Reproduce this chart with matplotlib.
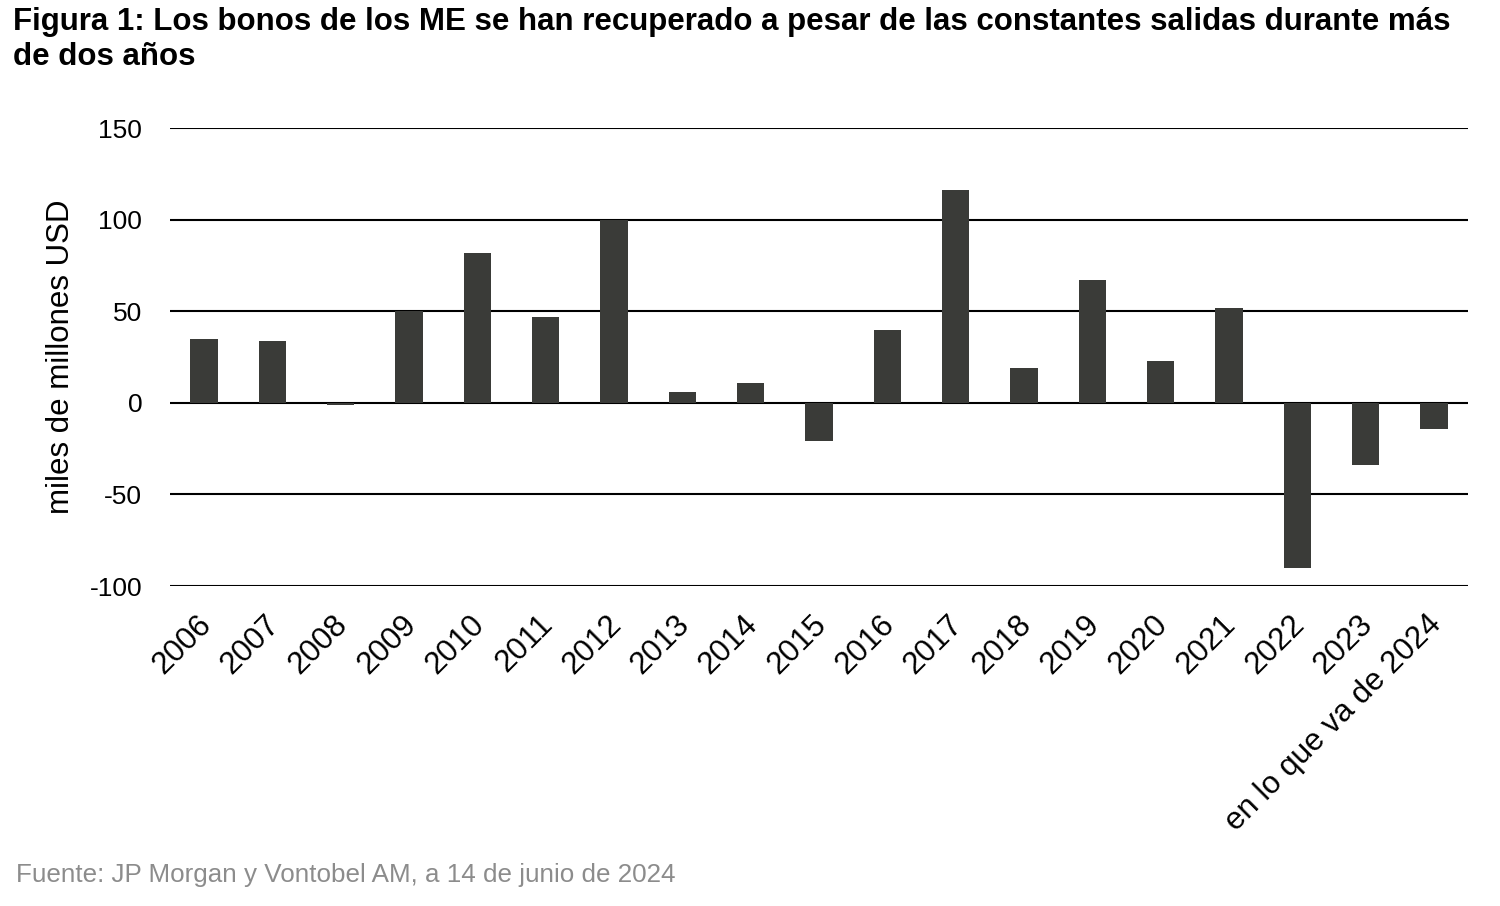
import matplotlib.pyplot as plt
import matplotlib.transforms as mtransforms
import numpy as np

plt.rcParams['font.family'] = ['Liberation Sans', 'DejaVu Sans']

# Flujos anuales (miles de millones USD)
years = ['2006', '2007', '2008', '2009', '2010', '2011', '2012', '2013', '2014', '2015',
         '2016', '2017', '2018', '2019', '2020', '2021', '2022', '2023', 'en lo que va de 2024']
flows = [35, 34, -1, 50, 82, 47, 100, 6, 11, -21,
         40, 116, 19, 67, 23, 52, -90, -34, -14.5]
yticks = [-100, -50, 0, 50, 100, 150]

fig = plt.figure(figsize=(15, 9.06), dpi=100)
ax = fig.add_axes([0.1133, 0.3532, 0.8654, 0.5055])

x = np.arange(len(years))
ax.set_axisbelow(True)
ax.bar(x, flows, width=0.4, color='#3a3b38', zorder=3)

ax.set_ylim(-100, 150)
ax.set_xlim(-0.5, len(years) - 0.5)
ax.set_yticks(yticks)
ax.set_yticklabels([str(t) for t in yticks])
ax.yaxis.grid(True, color='black', linewidth=1.5)
ax.set_xticks(x)
ax.set_xticklabels(years, rotation=45, ha='right', rotation_mode='anchor')

for s in ax.spines.values():
    s.set_visible(False)
ax.tick_params(axis='y', length=0, labelsize=19, pad=20)
ax.tick_params(axis='x', length=0, labelsize=22.5, pad=17)

# desplazar un poco las etiquetas a la izquierda
shift = mtransforms.ScaledTranslation(-0.08, 0, fig.dpi_scale_trans)
for lbl in ax.get_xticklabels():
    lbl.set_transform(lbl.get_transform() + shift)

ax.set_ylabel('miles de millones USD', fontsize=22.5, labelpad=10)

fig.text(0.009, 0.992, 'Figura 1: Los bonos de los ME se han recuperado a pesar de las constantes salidas durante más\nde dos años',
         fontsize=22.5, fontweight='bold', va='top', ha='left', linespacing=1.22)
fig.text(0.011, 0.034, 'Fuente: JP Morgan y Vontobel AM, a 14 de junio de 2024',
         fontsize=18.7, color='#8c8c8c', va='center', ha='left')

fig.savefig('out.png', dpi=100)
